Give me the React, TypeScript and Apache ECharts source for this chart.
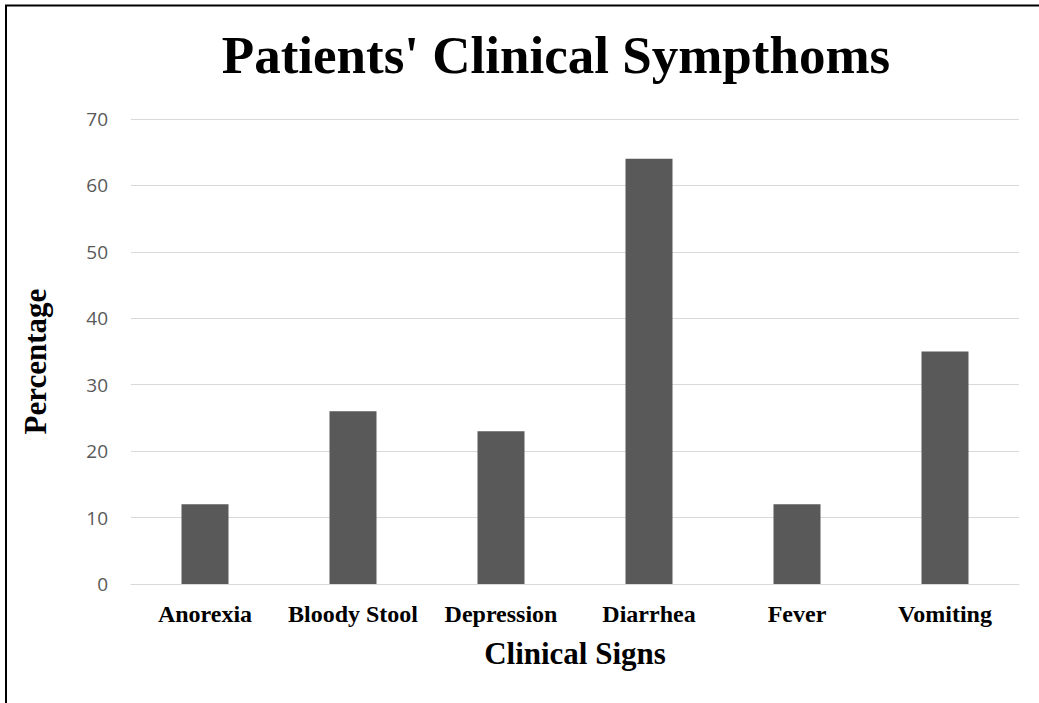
import React, { useEffect, useRef } from "react";
import * as echarts from "echarts";

const categories = ["Anorexia", "Bloody Stool", "Depression", "Diarrhea", "Fever", "Vomiting"];
const percentages = [12, 26, 23, 64, 12, 35];
const titleText = "Patients' Clinical Sympthoms";
const xAxisName = "Clinical Signs";
const yAxisName = "Percentage";

export default function App() {
  const ref = useRef<HTMLDivElement>(null);
  useEffect(() => {
    if (!ref.current) return;
    const chart = echarts.init(ref.current, undefined, { renderer: "svg" });
    const serif = "'Liberation Serif', 'Times New Roman', serif";
    chart.setOption({
      animation: false,
      backgroundColor: "#ffffff",
      title: {
        text: titleText,
        left: 556,
        top: 29,
        padding: 0,
        textAlign: "center",
        textStyle: { fontFamily: serif, fontWeight: "bold", fontSize: 53, color: "#000000", lineHeight: 52 },
      },
      graphic: [
        {
          type: "rect",
          shape: { x: 6, y: 5.5, width: 1200, height: 900 },
          style: { fill: "none", stroke: "#000000", lineWidth: 2 },
          silent: true,
        },
      ],
      grid: { left: 131, right: 20, top: 119, bottom: 119, containLabel: false },
      xAxis: {
        type: "category",
        data: categories,
        axisLine: { show: true, lineStyle: { color: "#d9d9d9", width: 1 } },
        axisTick: { show: false },
        axisLabel: { fontFamily: serif, fontWeight: "bold", fontSize: 24, color: "#000000", margin: 18, interval: 0 },
        name: xAxisName,
        nameLocation: "middle",
        nameGap: 54,
        nameTextStyle: { fontFamily: serif, fontWeight: "bold", fontSize: 31, color: "#000000" },
      },
      yAxis: {
        type: "value",
        min: 0,
        max: 70,
        interval: 10,
        axisLine: { show: false },
        axisTick: { show: false },
        splitLine: { show: true, lineStyle: { color: "#d9d9d9", width: 1 } },
        axisLabel: { fontFamily: "'Open Sans', sans-serif", fontSize: 19, color: "#595959", margin: 23 },
        name: yAxisName,
        nameLocation: "middle",
        nameGap: 80,
        nameRotate: 90,
        nameTextStyle: {
          fontFamily: serif,
          fontWeight: "bold",
          fontSize: 31,
          color: "#000000",
          padding: [0, 20, 0, 0],
        },
      },
      series: [
        {
          type: "bar",
          data: percentages,
          barWidth: 47,
          itemStyle: { color: "#595959" },
        },
      ],
    });
    return () => chart.dispose();
  }, []);
  return (
    <div
      ref={ref}
      style={{ position: "absolute", left: 0, top: 0, width: 1039, height: 703, background: "#fff" }}
    />
  );
}
